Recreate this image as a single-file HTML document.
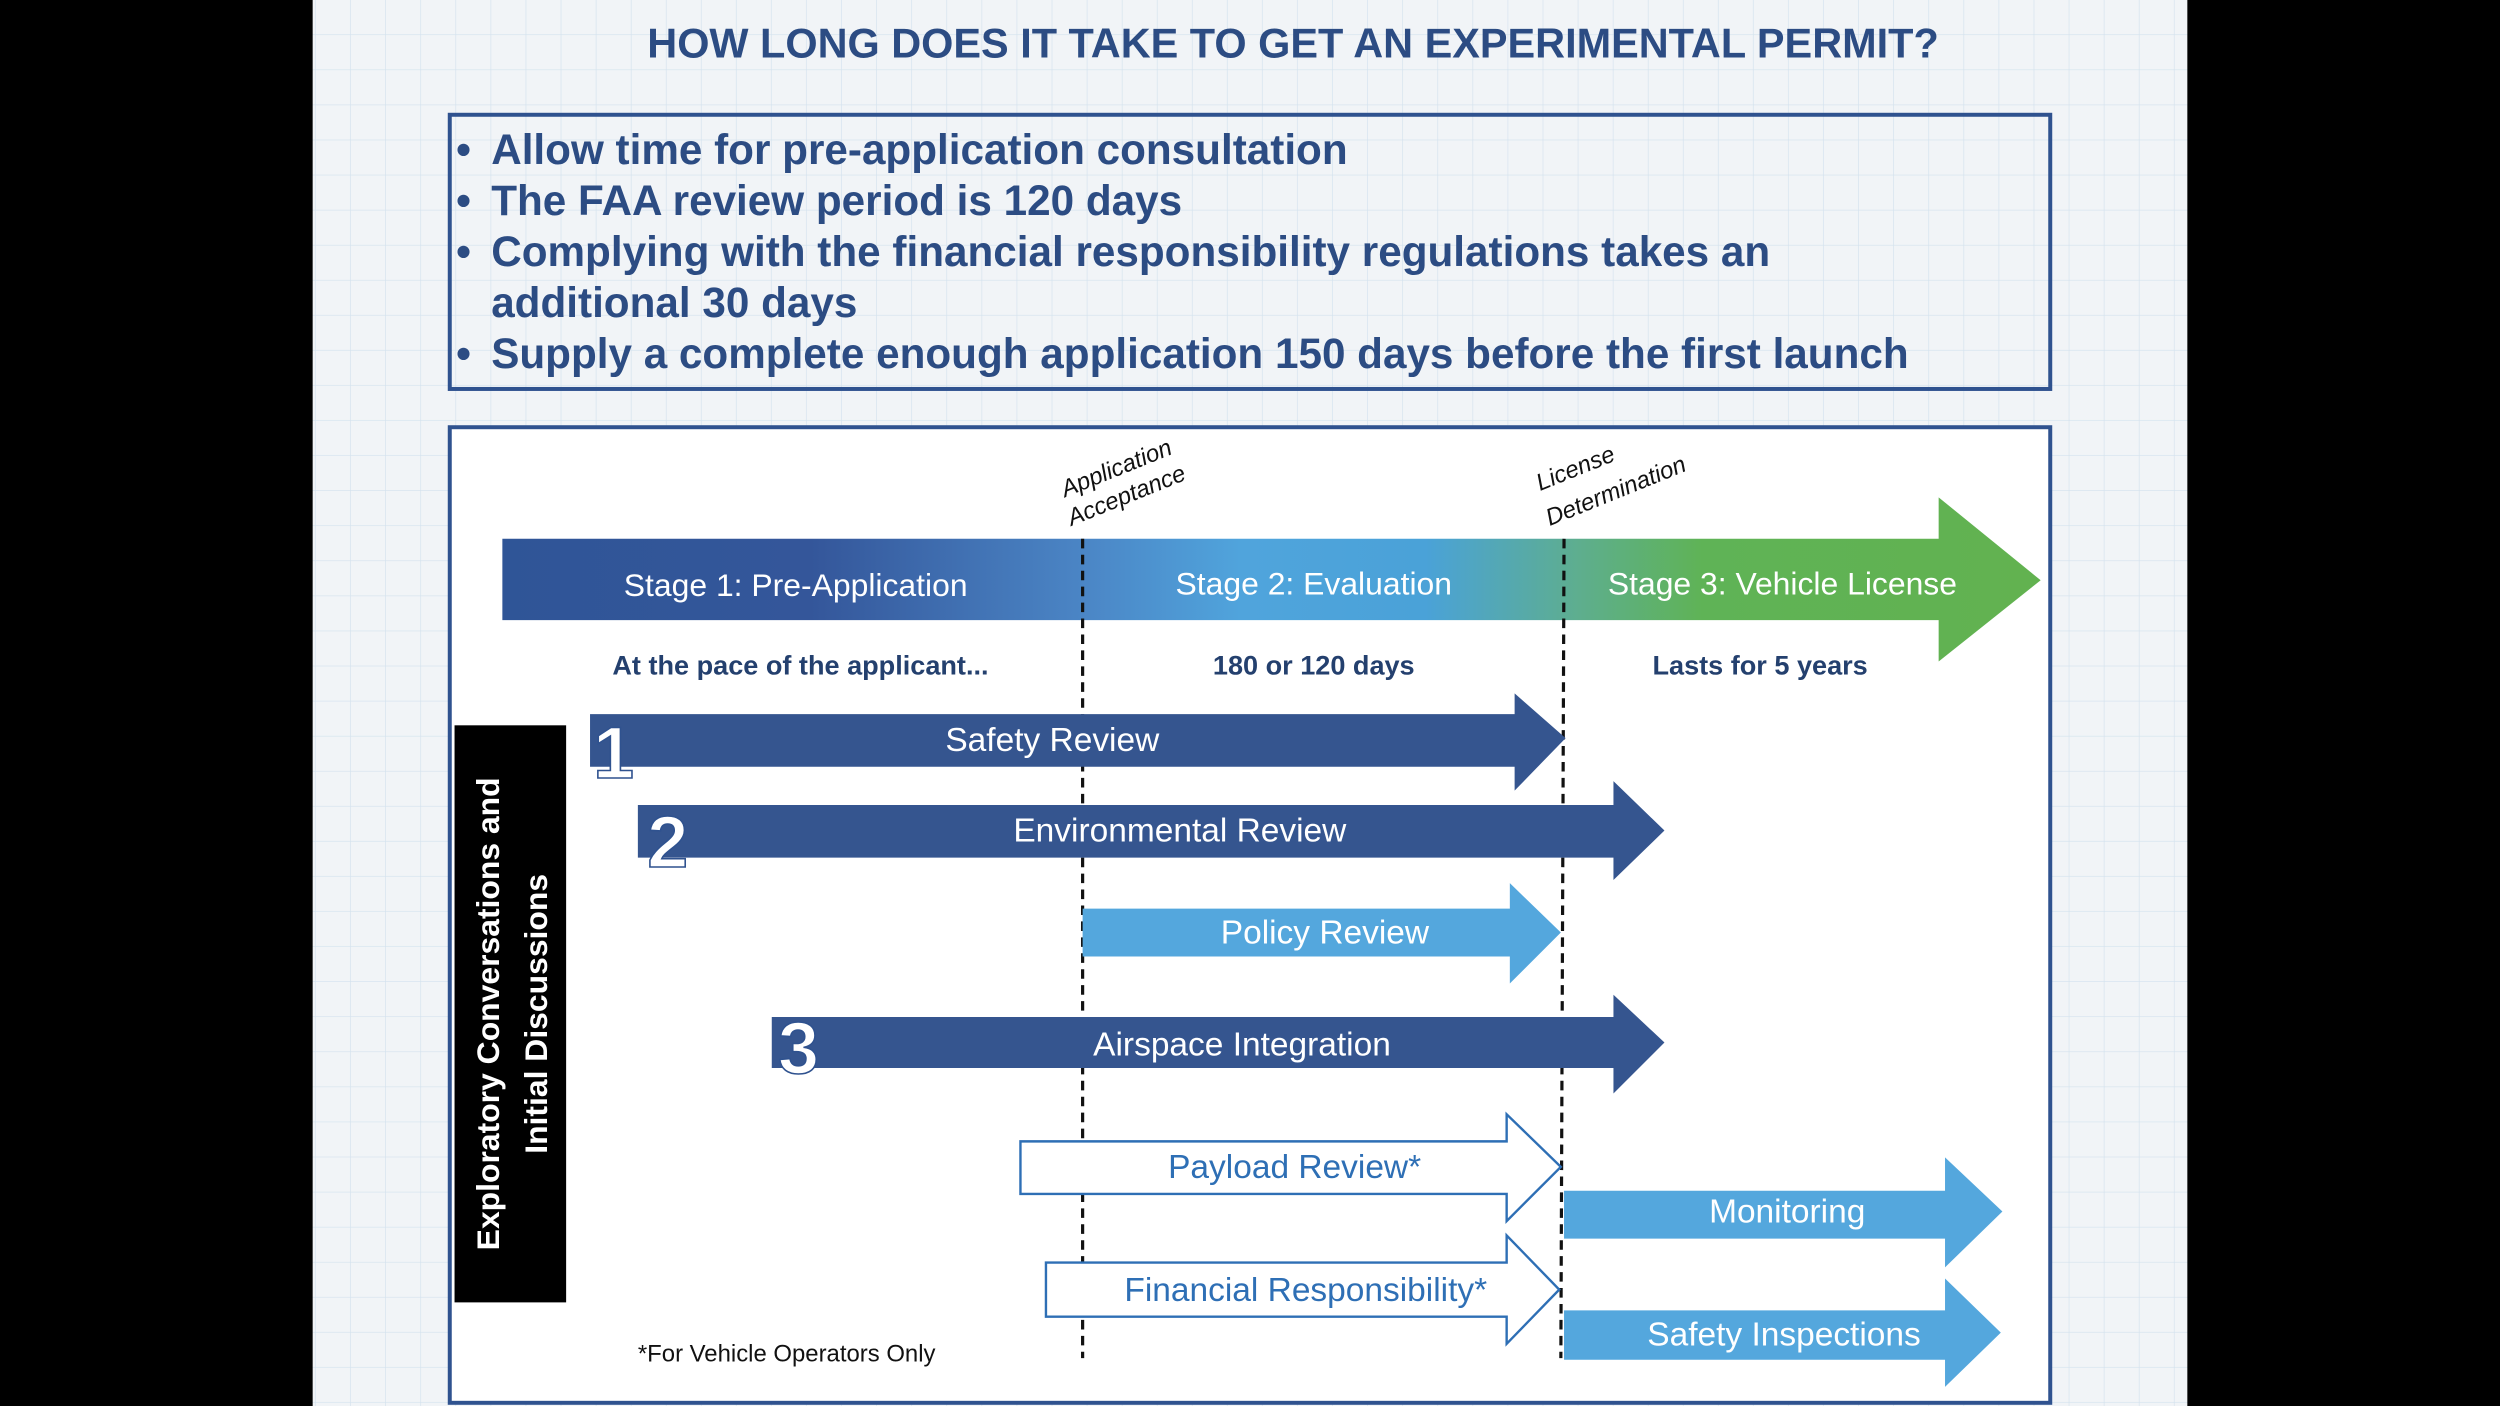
<!DOCTYPE html>
<html><head><meta charset="utf-8"><style>
html,body{margin:0;padding:0;background:#000;}
svg{display:block}
</style></head><body>
<svg width="2500" height="1406" viewBox="0 0 1568 882" xmlns="http://www.w3.org/2000/svg" font-family="Liberation Sans, sans-serif">
<defs>
<pattern id="grid" width="22" height="22" patternUnits="userSpaceOnUse">
<rect width="22" height="22" fill="#f1f4f7"/>
<path d="M22 0V22M0 22H22" stroke="#d3e2ee" stroke-width="0.8"/>
</pattern>
<linearGradient id="stg" x1="315" x2="1280" y1="0" y2="0" gradientUnits="userSpaceOnUse">
<stop offset="0" stop-color="#2f5597"/>
<stop offset="0.2" stop-color="#34569a"/>
<stop offset="0.38" stop-color="#4b86c6"/>
<stop offset="0.48" stop-color="#50a4dc"/>
<stop offset="0.6" stop-color="#4aa2d8"/>
<stop offset="0.7" stop-color="#5eae8e"/>
<stop offset="0.78" stop-color="#5fb356"/>
<stop offset="1" stop-color="#62b250"/>
</linearGradient>
</defs>
<rect x="196" y="0" width="1176" height="882" fill="url(#grid)"/>
<text x="811" y="36" text-anchor="middle" font-size="26" font-weight="bold" fill="#2c4c83">HOW LONG DOES IT TAKE TO GET AN EXPERIMENTAL PERMIT?</text>
<rect x="282" y="72" width="1004" height="172" fill="none" stroke="#2f528f" stroke-width="2.5"/>
<g font-size="26.5" font-weight="bold" fill="#2c4c83">
<text x="286" y="103">•</text><text x="308" y="103">Allow time for pre-application consultation</text>
<text x="286" y="135">•</text><text x="308" y="135">The FAA review period is 120 days</text>
<text x="286" y="167">•</text><text x="308" y="167">Complying with the financial responsibility regulations takes an</text>
<text x="308" y="199">additional 30 days</text>
<text x="286" y="231">•</text><text x="308" y="231">Supply a complete enough application 150 days before the first launch</text>
</g>
<rect x="282" y="268" width="1004" height="612" fill="#fff" stroke="#2f528f" stroke-width="2.5"/>
<g font-size="15" font-style="italic" fill="#111">
<text transform="translate(668,312) rotate(-22)">Application</text>
<text transform="translate(672,330) rotate(-22)">Acceptance</text>
<text transform="translate(966,308) rotate(-22)">License</text>
<text transform="translate(972,330) rotate(-22)">Determination</text>
</g>
<polygon points="315,338 1216,338 1216,312 1280,364 1216,415 1216,389 315,389" fill="url(#stg)"/>
<g font-size="20" fill="#fff" text-anchor="middle">
<text x="499" y="374">Stage 1: Pre-Application</text>
<text x="824" y="373">Stage 2: Evaluation</text>
<text x="1118" y="373">Stage 3: Vehicle License</text>
</g>
<g font-size="17" font-weight="bold" fill="#24406e" text-anchor="middle">
<text x="502" y="423">At the pace of the applicant...</text>
<text x="824" y="423">180 or 120 days</text>
<text x="1104" y="423">Lasts for 5 years</text>
</g>
<g stroke="#111" stroke-width="2" stroke-dasharray="6,4">
<line x1="679" y1="338" x2="679" y2="852"/>
<line x1="981" y1="338" x2="979" y2="852"/>
</g>
<polygon points="370,448 950,448 950,435 982,463 950,496 950,481 370,481" fill="#35558f"/>
<polygon points="400,505 1012,505 1012,490 1044,521 1012,552 1012,538 400,538" fill="#35558f"/>
<polygon points="679,570 947,570 947,554 979,585 947,617 947,600 679,600" fill="#54a7dd"/>
<polygon points="484,638 1012,638 1012,624 1044,654 1012,686 1012,670 484,670" fill="#35558f"/>
<polygon points="640,716 945,716 945,699 979,732 945,766 945,749 640,749" fill="#fff" stroke="#2e6fb5" stroke-width="1.5"/>
<polygon points="656,792 945,792 945,775 978,809 945,843 945,826 656,826" fill="#fff" stroke="#2e6fb5" stroke-width="1.5"/>
<polygon points="981,747 1220,747 1220,726 1256,760 1220,795 1220,777 981,777" fill="#54a7dd"/>
<polygon points="981,822 1220,822 1220,802 1255,836 1220,870 1220,853 981,853" fill="#54a7dd"/>
<g font-size="21" fill="#fff" text-anchor="middle">
<text x="660" y="471">Safety Review</text>
<text x="740" y="528">Environmental Review</text>
<text x="831" y="592">Policy Review</text>
<text x="779" y="662">Airspace Integration</text>
<text x="1121" y="767">Monitoring</text>
<text x="1119" y="844">Safety Inspections</text>
</g>
<g font-size="21" fill="#2e6fb5" text-anchor="middle">
<text x="812" y="739">Payload Review*</text>
<text x="819" y="816">Financial Responsibility*</text>
</g>
<g font-size="46" font-weight="bold" fill="#fff" stroke="#2f528f" stroke-width="1">
<text x="372" y="488">1</text>
<text x="406" y="544">2</text>
<text x="488" y="673">3</text>
</g>
<rect x="285" y="455" width="70" height="362" fill="#000"/>
<g font-size="20" font-weight="bold" fill="#fff" text-anchor="middle">
<text transform="translate(313,636) rotate(-90)">Exploratory Conversations and</text>
<text transform="translate(343,636) rotate(-90)">Initial Discussions</text>
</g>
<text x="400" y="854" font-size="15" fill="#111">*For Vehicle Operators Only</text>
</svg>
</body></html>
